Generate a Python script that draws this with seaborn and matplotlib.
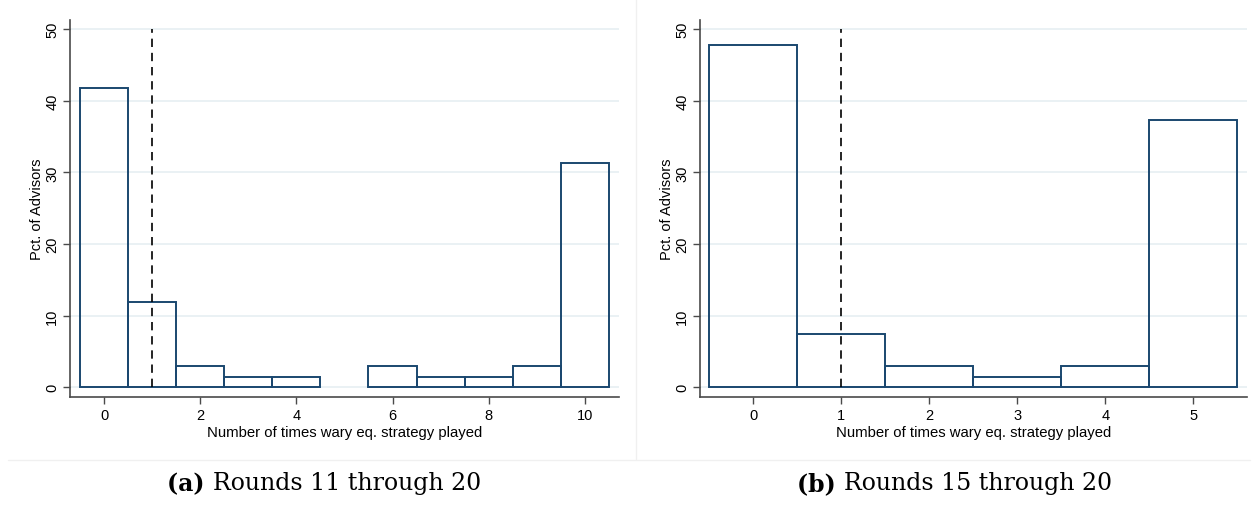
#!/usr/bin/env python3

import matplotlib.pyplot as plt
from matplotlib.lines import Line2D
import seaborn as sns
import pandas as pd

# ===================== DATOS =====================

# Panel (a): rounds 11 through 20
times_a = [0, 1, 2, 3, 4, 6, 7, 8, 9, 10]
pct_a = [41.8, 11.9, 3.0, 1.5, 1.5, 3.0, 1.5, 1.5, 3.0, 31.3]

# Panel (b): rounds 15 through 20
times_b = [0, 1, 2, 3, 4, 5]
pct_b = [47.8, 7.5, 3.0, 1.5, 3.0, 37.3]

xticks_a = [0, 2, 4, 6, 8, 10]
xticks_b = [0, 1, 2, 3, 4, 5]
yticks = [0, 10, 20, 30, 40, 50]

captions = ["Rounds 11 through 20", "Rounds 15 through 20"]
caption_tags = ["(a)", "(b)"]

x_label = "Number of times wary eq. strategy played"
y_label = "Pct. of Advisors"
eq_line = 1

# ===================== ESTILO =====================

sns.set_style("white")
plt.rcParams["font.family"] = ["Liberation Sans", "DejaVu Sans"]
plt.rcParams["text.color"] = "black"
plt.rcParams["axes.labelcolor"] = "black"
plt.rcParams["xtick.labelcolor"] = "black"
plt.rcParams["ytick.labelcolor"] = "black"

navy = "#1a476f"
grid_col = "#e8f0f3"
axis_col = "#4a4a4a"
serif = ["DejaVu Serif"]


def hist_panel(ax, times, pct, xticks, xlim):
    data = pd.DataFrame({"times": times, "pct": pct})
    sns.histplot(
        data=data,
        x="times",
        weights="pct",
        discrete=True,
        shrink=1,
        fill=False,
        element="bars",
        color=navy,
        linewidth=1.4,
        ax=ax
    )
    # quitar barras vacías
    for p in list(ax.patches):
        if p.get_height() == 0:
            p.remove()

    ax.vlines(eq_line, 0, 50, colors="black", linestyles=(0, (5, 3.5)), linewidth=1.2)

    ax.set_xlim(*xlim)
    ax.set_ylim(-1.4, 51.3)
    ax.set_xticks(xticks)
    ax.set_yticks(yticks)
    ax.set_yticklabels([str(t) for t in yticks], rotation=90, va="center")
    ax.tick_params(axis="both", labelsize=10.5, length=5, width=1,
                   color=axis_col, labelcolor="black", direction="out", pad=3)
    ax.tick_params(axis="x", bottom=True)
    ax.tick_params(axis="y", left=True)
    ax.set_xlabel(x_label, fontsize=10.7, labelpad=2, color="black")
    ax.set_ylabel(y_label, fontsize=10.5, labelpad=1, color="black")

    ax.yaxis.grid(True, color=grid_col, linewidth=1.3)
    ax.xaxis.grid(False)
    ax.set_axisbelow(True)

    sns.despine(ax=ax)
    for s in ["left", "bottom"]:
        ax.spines[s].set_color(axis_col)
        ax.spines[s].set_linewidth(1.2)
    return ax


fig = plt.figure(figsize=(12.58, 5.10), dpi=100)
ax_a = fig.add_axes([0.0560, 0.219, 0.436, 0.7404])
ax_b = fig.add_axes([0.5568, 0.219, 0.4344, 0.7404])

hist_panel(ax_a, times_a, pct_a, xticks_a, (-0.70, 10.71))
hist_panel(ax_b, times_b, pct_b, xticks_b, (-0.60, 5.61))

# separadores de las subfiguras
fig.add_artist(Line2D([635.5 / 1258, 635.5 / 1258], [1 - 0 / 510, 1 - 460 / 510],
                      color="#f0f0f0", linewidth=1))
fig.add_artist(Line2D([8 / 1258, 1250 / 1258], [1 - 460.5 / 510, 1 - 460.5 / 510],
                      color="#f0f0f0", linewidth=1))

# leyendas de los paneles (etiqueta en negrita + texto normal, centrado)
renderer = fig.canvas.get_renderer()
W = fig.get_figwidth() * fig.dpi
for xc_px, tag, cap in zip([324, 955], caption_tags, captions):
    y = 1 - 484 / 510
    t1 = fig.text(0, y, tag + " ", ha="left", va="center", fontsize=17,
                  fontweight="bold", family=serif, color="black")
    t2 = fig.text(0, y, cap, ha="left", va="center", fontsize=17,
                  family=serif, color="black")
    w1 = t1.get_window_extent(renderer).width
    w2 = t2.get_window_extent(renderer).width
    x0 = xc_px - (w1 + w2) / 2
    t1.set_x(x0 / W)
    t2.set_x((x0 + w1) / W)

fig.savefig("out.png", dpi=100)
